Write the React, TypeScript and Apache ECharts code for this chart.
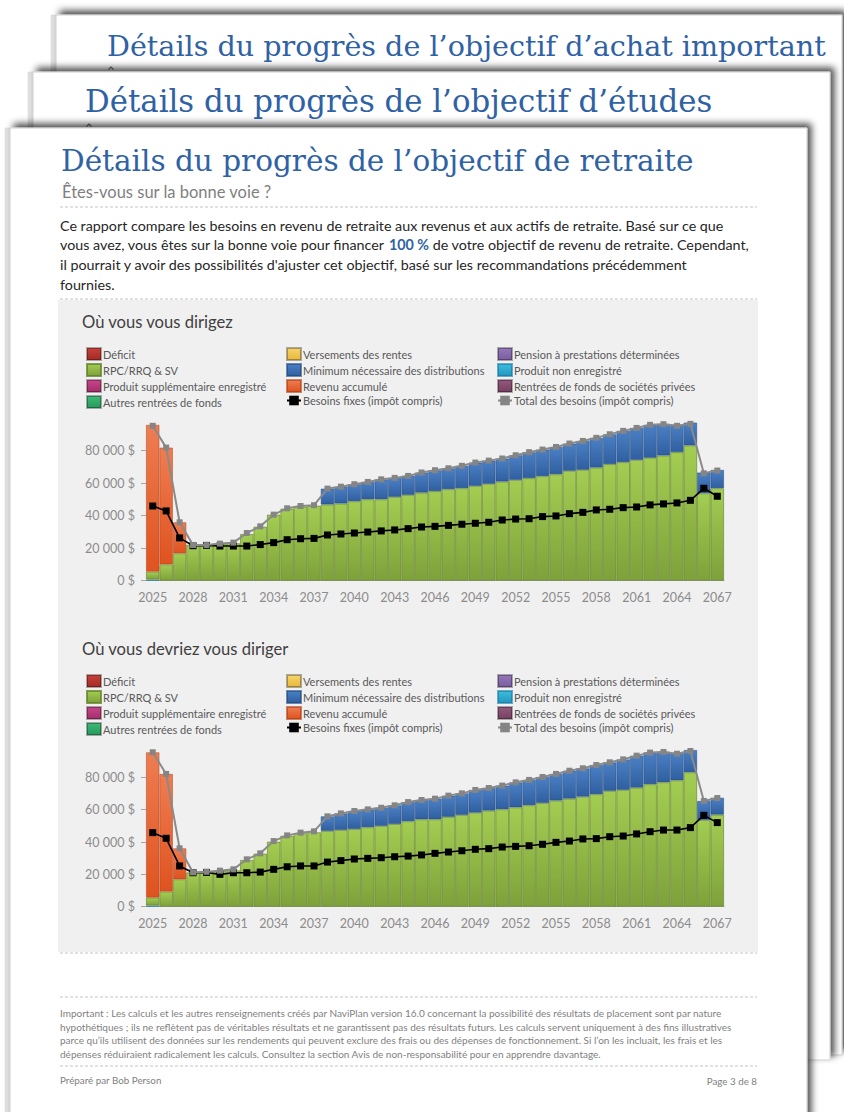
import React, { useEffect, useRef } from "react";
import * as echarts from "echarts";

const years = ["2025","2026","2027","2028","2029","2030","2031","2032","2033","2034","2035","2036","2037","2038","2039","2040","2041","2042","2043","2044","2045","2046","2047","2048","2049","2050","2051","2052","2053","2054","2055","2056","2057","2058","2059","2060","2061","2062","2063","2064","2065","2066","2067"];
const yTicks = [0, 20000, 40000, 60000, 80000];

// Chart 1 : Où vous vous dirigez
const rpc1 = [4800,10000,16800,22000,22100,22600,23000,28700,33200,40600,44300,45500,46100,46800,47400,48800,50000,50000,51500,52700,54100,55000,56200,56800,58200,59500,60900,61900,63000,64200,65400,67500,68100,69500,71600,72800,74200,75500,76900,79000,83100,53700,56800];
const min1 = [0,0,0,0,0,0,0,0,0,0,0,0,0,9800,10400,10500,10700,12300,11700,11800,12400,12900,12900,13800,14400,14300,14200,15200,16000,16400,16800,16800,17800,18300,18400,19300,19700,20300,19500,17000,14100,12800,11300];
const acc1 = [90300,71800,19100,0,0,0,0,0,0,0,0,0,0,0,0,0,0,0,0,0,0,0,0,0,0,0,0,0,0,0,0,0,0,0,0,0,0,0,0,0,0,0,0];
const nonreg1 = [700,0,0,0,0,0,0,0,0,0,0,0,0,0,0,0,0,0,0,0,0,0,0,0,0,0,0,0,0,0,0,0,0,0,0,0,0,0,0,0,0,0,0];
const fixed1 = [45900,42900,26300,21500,21700,21300,21300,21300,22200,23400,25200,25800,26000,28100,28700,29300,29900,30600,31200,32000,33000,33400,34000,34700,35300,35900,37300,37900,38100,39400,39800,41200,42000,43500,43900,44900,45300,46600,47200,47800,49400,56800,51900];
const total1 = [95200,81800,35900,21900,21900,22800,23400,29300,33400,40600,44500,45900,46400,56600,57800,59300,60700,62300,63200,64400,66500,67900,69100,70600,72600,73800,75100,77100,79000,80600,82200,84300,85900,87800,90000,92100,93900,95800,96200,95200,96400,66000,67700];

// Chart 2 : Où vous devriez vous diriger
const rpc2 = [4900,9300,16900,21200,21600,22100,22500,28900,32800,40200,43900,45400,46000,46800,47400,48000,49100,49900,51100,52800,54000,54000,55500,56700,58100,59400,60200,61400,62700,64100,65600,66800,68000,69500,71600,72200,73600,75700,76900,78100,83100,53600,56900];
const min2 = [0,0,0,0,0,0,0,0,0,0,0,0,0,9100,10300,11200,11100,11300,11600,11900,12000,12800,13200,13400,14100,14000,14700,15500,15700,16100,16500,17300,17600,18100,17700,18900,19800,19800,19000,17100,13800,11800,10500];
const acc2 = [89900,72800,19200,0,0,0,0,0,0,0,0,0,0,0,0,0,0,0,0,0,0,0,0,0,0,0,0,0,0,0,0,0,0,0,0,0,0,0,0,0,0,0,0];
const nonreg2 = [700,0,0,0,0,0,0,0,0,0,0,0,0,0,0,0,0,0,0,0,0,0,0,0,0,0,0,0,0,0,0,0,0,0,0,0,0,0,0,0,0,0,0];
const fixed2 = [45800,42300,25200,21000,21200,20000,21000,21000,21400,23100,24700,25200,25200,27600,28500,29500,29900,30300,30900,31300,32000,33000,33800,34600,35500,35900,36900,37300,37700,38600,39800,40600,41900,42100,43300,43700,45000,46400,47400,47400,48900,56500,52000];
const total2 = [95500,82100,36100,21200,21600,22300,23100,29300,33000,40600,44100,45800,46600,55900,57700,59200,60200,61200,62700,64700,66000,66800,68700,70100,72200,73400,74900,76900,78400,80200,82100,84100,85600,87600,89300,91100,93400,95300,95700,94600,96300,65400,67200];

const N = {
  deficit: "Déficit",
  rentes: "Versements des rentes",
  pension: "Pension à prestations déterminées",
  rpc: "RPC/RRQ & SV",
  min: "Minimum nécessaire des distributions",
  nonreg: "Produit non enregistré",
  supp: "Produit supplémentaire enregistré",
  acc: "Revenu accumulé",
  privees: "Rentrées de fonds de sociétés privées",
  autres: "Autres rentrées de fonds",
  fixed: "Besoins fixes (impôt compris)",
  total: "Total des besoins (impôt compris)",
};

const legendCols = [
  [N.deficit, N.rpc, N.supp, N.autres],
  [N.rentes, N.min, N.acc, N.fixed],
  [N.pension, N.nonreg, N.privees, N.total],
];

const paragraph = [
  "Ce rapport compare les besoins en revenu de retraite aux revenus et aux actifs de retraite. Basé sur ce que",
  "vous avez, vous êtes sur la bonne voie pour financer {b|100 %} de votre objectif de revenu de retraite. Cependant,",
  "il pourrait y avoir des possibilités d'ajuster cet objectif, basé sur les recommandations précédemment",
  "fournies.",
];
const footer = [
  "Important : Les calculs et les autres renseignements créés par NaviPlan version 16.0 concernant la possibilité des résultats de placement sont par nature",
  "hypothétiques ; ils ne reflètent pas de véritables résultats et ne garantissent pas des résultats futurs. Les calculs servent uniquement à des fins illustratives",
  "parce qu’ils utilisent des données sur les rendements qui peuvent exclure des frais ou des dépenses de fonctionnement. Si l’on les incluait, les frais et les",
  "dépenses réduiraient radicalement les calculs. Consultez la section Avis de non-responsabilité pour en apprendre davantage.",
];

const SANS = "Lato";
const SERIF = "DejaVu Serif";
const TITLE_BLUE = "#2f62a5";

function grad(top: string, bottom: string) {
  return new echarts.graphic.LinearGradient(0, 0, 0, 1, [
    { offset: 0, color: top },
    { offset: 1, color: bottom },
  ]);
}

const colors: Record<string, any> = {
  [N.deficit]: grad("#c8403a", "#a52a26"),
  [N.rentes]: grad("#f6d46a", "#e8b83a"),
  [N.pension]: grad("#9478b8", "#7a5ca0"),
  [N.rpc]: grad("#a3cd52", "#7ea13a"),
  [N.min]: grad("#4b80c6", "#2f5f9f"),
  [N.nonreg]: grad("#3dbde0", "#2496bd"),
  [N.supp]: grad("#c8458a", "#a52e6c"),
  [N.acc]: grad("#ee7d52", "#df531f"),
  [N.privees]: grad("#94587f", "#77405f"),
  [N.autres]: grad("#3cba78", "#27995c"),
};
const borders: Record<string, string> = {
  [N.rpc]: "rgba(95,125,40,0.75)",
  [N.min]: "rgba(30,70,120,0.6)",
  [N.acc]: "rgba(170,60,20,0.6)",
  [N.nonreg]: "rgba(20,120,160,0.6)",
};

function bars(v: number[]) {
  return v.map((x) => (x ? x : null));
}

function chartSeries(idx: number, d: { rpc: number[]; min: number[]; acc: number[]; nonreg: number[]; fixed: number[]; total: number[] }) {
  const stack = "s" + idx;
  const bar = (name: string, data: (number | null)[]) => ({
    type: "bar",
    name,
    xAxisIndex: idx,
    yAxisIndex: idx,
    stack,
    data,
    barCategoryGap: "0%",
    itemStyle: { color: colors[name], borderColor: borders[name] || "rgba(0,0,0,0.3)", borderWidth: 0.8 },
  });
  return [
    bar(N.nonreg, bars(d.nonreg)),
    bar(N.rpc, bars(d.rpc)),
    bar(N.min, bars(d.min)),
    bar(N.acc, bars(d.acc)),
    bar(N.deficit, []),
    bar(N.rentes, []),
    bar(N.pension, []),
    bar(N.supp, []),
    bar(N.privees, []),
    bar(N.autres, []),
    {
      type: "line",
      name: N.fixed,
      xAxisIndex: idx,
      yAxisIndex: idx,
      data: d.fixed,
      symbol: "rect",
      symbolSize: 7,
      lineStyle: { color: "#000000", width: 1.6 },
      itemStyle: { color: "#000000" },
      z: 5,
    },
    {
      type: "line",
      name: N.total,
      xAxisIndex: idx,
      yAxisIndex: idx,
      data: d.total,
      symbol: "rect",
      symbolSize: 6,
      lineStyle: { color: "#8a8a8a", width: 2 },
      itemStyle: { color: "#858585" },
      z: 6,
    },
  ];
}

const yFormatter = (v: number) => (v === 0 ? "0 $" : `${v / 1000} 000 $`);

function xAxis(idx: number) {
  return {
    type: "category",
    gridIndex: idx,
    data: years,
    axisLine: { lineStyle: { color: "#a6a6a6", width: 1 } },
    axisTick: { alignWithLabel: true, interval: 0, length: 5, lineStyle: { color: "#a6a6a6" } },
    axisLabel: { interval: 2, color: "#8c8c8c", fontSize: 12.5, fontFamily: SANS, margin: 10 },
  };
}
function yAxis(idx: number) {
  return {
    type: "value",
    gridIndex: idx,
    min: 0,
    max: 100000,
    interval: 20000,
    axisLine: { show: false },
    splitLine: { show: false },
    axisTick: { show: true, length: 5, customValues: yTicks, lineStyle: { color: "#a6a6a6" } },
    axisLabel: { customValues: yTicks, formatter: yFormatter, color: "#8c8c8c", fontSize: 12.5, fontFamily: SANS, margin: 11 },
  };
}

const legendX = [86, 286, 497];
function legends(top: number) {
  return legendCols.map((col, i) => ({
    orient: "vertical",
    left: legendX[i],
    top,
    padding: 0,
    itemWidth: 14,
    itemHeight: 12,
    itemGap: 2,
    selectedMode: false,
    textStyle: { fontFamily: SANS, fontSize: 11, color: "#595959", padding: [0, 0, 0, -3] },
    data: col.map((n) => (n === N.fixed || n === N.total ? { name: n } : { name: n, icon: "rect" })),
  }));
}

function txt(z: number, x: number, y: number, text: string, size: number, fill: string, family = SANS, extra: any = {}) {
  return {
    type: "text",
    z,
    style: {
      x,
      y,
      text,
      fontSize: size,
      fontFamily: family,
      fill,
      align: extra.align || "left",
      textAlign: extra.align || "left",
      verticalAlign: "middle",
      textVerticalAlign: "middle",
      ...extra.style,
    },
  };
}
function dash(z: number, x1: number, x2: number, y: number) {
  return {
    type: "line",
    z,
    shape: { x1, y1: y, x2, y2: y },
    style: { stroke: "#c4c4c4", lineWidth: 1, lineDash: [3, 2] },
  };
}
// small glimpse of the hidden subtitle's circumflex peeking above the next page
function hat(z: number, x: number, y: number) {
  return {
    type: "polyline",
    z,
    shape: { points: [[x - 2.5, y + 2.5], [x, y], [x + 2.5, y + 2.5]] },
    style: { stroke: "#6f6f6f", lineWidth: 1.2, fill: "none" },
  };
}
function page(z: number, x: number, y: number, w: number, h: number) {
  return [
    { type: "rect", z: z - 1, shape: { x: x - 5, y, width: 6, height: h }, style: { fill: "#e3e3e3", stroke: "#d0d0d0", lineWidth: 0.5 } },
    {
      type: "rect",
      z,
      shape: { x, y, width: w, height: h },
      style: {
        fill: "#ffffff",
        stroke: "#cfcfcf",
        lineWidth: 1,
        shadowBlur: 7,
        shadowOffsetX: 4,
        shadowOffsetY: -4,
        shadowColor: "rgba(0,0,0,0.7)",
      },
    },
  ];
}

const graphics: any[] = [
  // back page A
  ...page(-40, 56, 15, 786, 1040),
  txt(-38, 107, 46, "Détails du progrès de l’objectif d’achat important", 28.6, TITLE_BLUE, SERIF),
  hat(-38, 111, 67),
  // back page B
  ...page(-30, 33, 72, 797, 988),
  txt(-28, 85, 101, "Détails du progrès de l’objectif d’études", 30.8, TITLE_BLUE, SERIF),
  hat(-28, 89, 124),
  // front page
  ...page(-20, 10, 128, 797, 1000),
  txt(-18, 61, 161, "Détails du progrès de l’objectif de retraite", 29.5, TITLE_BLUE, SERIF),
  txt(-18, 62, 192, "Êtes-vous sur la bonne voie ?", 16.5, "#7f7f7f"),
  dash(-18, 60, 757, 207),
  ...paragraph.map((line, i) =>
    txt(-18, 60, 225 + i * 19.7, line, 14.3, "#262626", SANS, {
      style: { rich: { b: { fontSize: 14.3, fontFamily: SANS, fontWeight: "bold", fill: TITLE_BLUE, color: TITLE_BLUE } } },
    })
  ),
  dash(-18, 60, 757, 299),
  { type: "rect", z: -17, shape: { x: 58, y: 300, width: 700, height: 652 }, style: { fill: "#f0f0f0" } },
  dash(-16, 60, 757, 953),
  txt(-16, 82, 322, "Où vous vous dirigez", 16.6, "#404040"),
  txt(-16, 82, 649, "Où vous devriez vous diriger", 16.6, "#404040"),
  dash(-18, 60, 757, 997),
  ...footer.map((line, i) => txt(-18, 60, 1013 + i * 13.6, line, 10, "#7f7f7f")),
  dash(-18, 60, 757, 1066),
  txt(-18, 60, 1080, "Préparé par Bob Person", 9.8, "#7f7f7f"),
  txt(-18, 757, 1081, "Page 3 de 8", 9.8, "#7f7f7f", SANS, { align: "right" }),
];

const option: any = {
  animation: false,
  backgroundColor: "#ffffff",
  textStyle: { fontFamily: SANS },
  graphic: { elements: graphics },
  grid: [
    { left: 146, top: 418, width: 578, height: 162.7 },
    { left: 146, top: 745, width: 578, height: 161.7 },
  ],
  xAxis: [xAxis(0), xAxis(1)],
  yAxis: [yAxis(0), yAxis(1)],
  legend: [...legends(347), ...legends(674)],
  series: [
    ...chartSeries(0, { rpc: rpc1, min: min1, acc: acc1, nonreg: nonreg1, fixed: fixed1, total: total1 }),
    ...chartSeries(1, { rpc: rpc2, min: min2, acc: acc2, nonreg: nonreg2, fixed: fixed2, total: total2 }),
  ],
};

export default function App() {
  const ref = useRef<HTMLDivElement>(null);
  useEffect(() => {
    if (!ref.current) return;
    const chart = echarts.init(ref.current, null, { renderer: "svg" });
    chart.setOption(option);
    return () => chart.dispose();
  }, []);
  return <div ref={ref} style={{ position: "absolute", left: 0, top: 0, width: 844, height: 1112 }} />;
}
